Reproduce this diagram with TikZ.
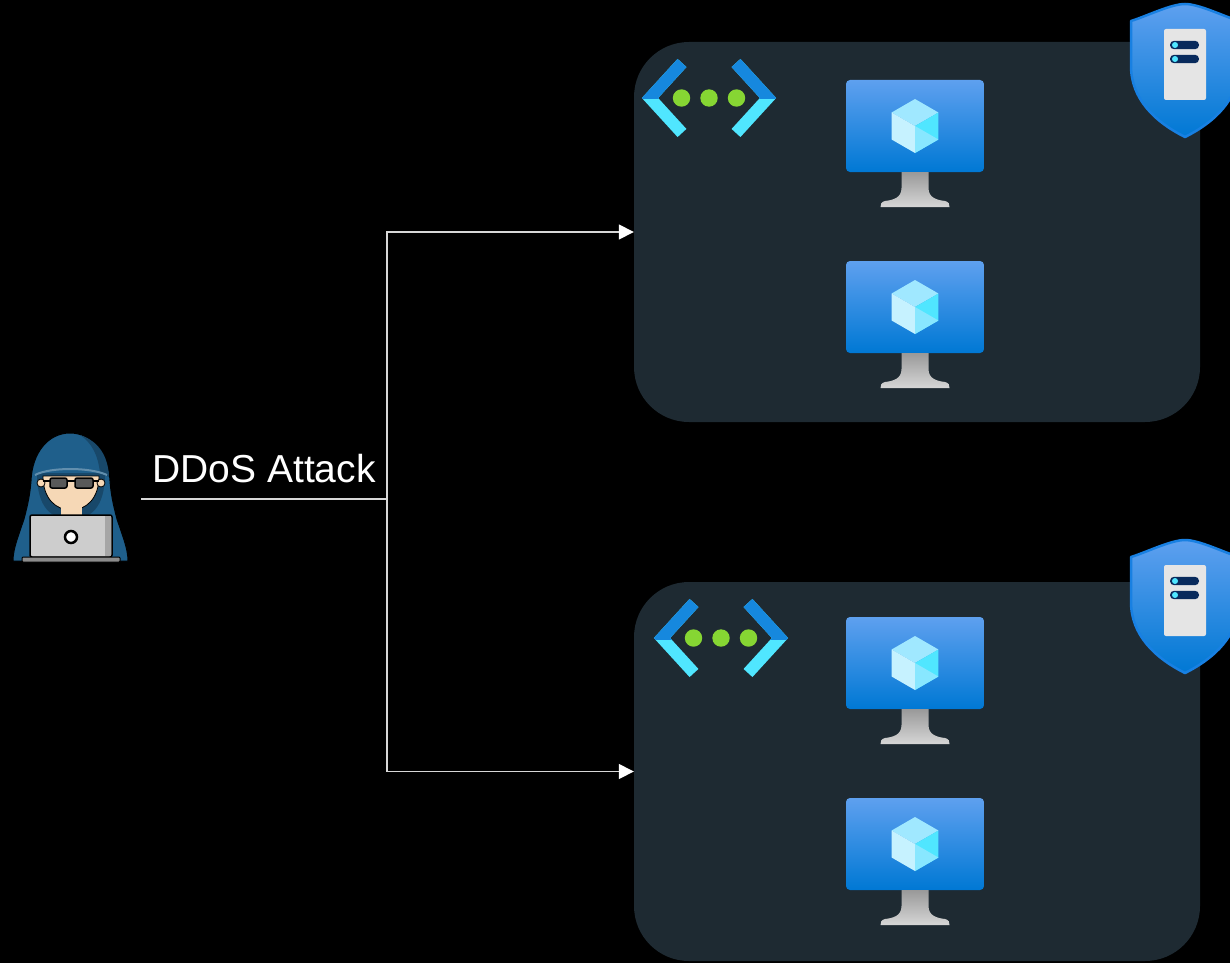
\documentclass[tikz,border=0pt]{standalone}
\usepackage{fontspec}
\setmainfont{Liberation Sans}
\usepackage{tikz}
\usetikzlibrary{arrows.meta,positioning,calc}
\definecolor{netpanel}{RGB}{30,42,50}
\definecolor{wirecol}{RGB}{215,215,215}
\definecolor{azlight}{RGB}{94,160,239}
\definecolor{azdark}{RGB}{0,120,212}
\definecolor{azedge}{RGB}{24,128,226}
\definecolor{cubetop}{RGB}{160,232,255}
\definecolor{cubeleft}{RGB}{198,242,255}
\definecolor{cuberight}{RGB}{80,230,255}
\definecolor{dotgreen}{RGB}{134,214,51}
\definecolor{chevdark}{RGB}{22,136,222}
\definecolor{chevlight}{RGB}{80,230,255}
\definecolor{srvnavy}{RGB}{8,42,92}
\definecolor{hoodblue}{RGB}{31,95,139}
\definecolor{hoodshade}{RGB}{24,72,106}
\definecolor{skin}{RGB}{246,216,182}
\definecolor{lidgray}{RGB}{205,205,205}

\begin{document}
\begin{tikzpicture}[x=1pt, y=-1pt,
  panel/.style={fill=netpanel, rounded corners=55pt, minimum width=566pt,
    inner sep=0pt},
  wire/.style={draw=wirecol, line width=1.5pt},
  arr/.style={wire, -{Triangle[length=15pt, width=15pt, color=white]}},
  tag/.style={font=\fontsize{39}{46}\selectfont, text=white, anchor=base,
    yshift=17pt},
  figure/.style={inner sep=0pt, minimum width=142pt, minimum height=130pt},
  chevron/.style={line width=12pt, line cap=butt, line join=miter},
  % virtual network: two chevrons and three dots
  pics/vnet/.style={code={
    \draw[chevron, chevlight] (-27,-35) -- (-59,0) -- (-27,35);
    \draw[chevron, chevlight] (27,-35) -- (59,0) -- (27,35);
    \begin{scope}
      \clip (-80,-50) rectangle (80,1);
      \draw[chevron, chevdark] (-27,-35) -- (-59,0) -- (-27,35);
      \draw[chevron, chevdark] (27,-35) -- (59,0) -- (27,35);
    \end{scope}
    \foreach \dx in {-27.5,0,27.5}
      \fill[dotgreen] (\dx,0) circle (8.7);
  }},
  % virtual machine: screen, stand and cube
  pics/vmicon/.style={code={
    \shade[top color=azlight, bottom color=azdark, rounded corners=4pt]
      (-69,-46) rectangle (69,46);
    \shade[top color=black!40, bottom color=black!16]
      (-13.5,46) -- (-13.5,62) .. controls (-13.5,72) and (-22,74) .. (-30,75)
      .. controls (-34,76) and (-34.5,78) .. (-34.5,81) -- (34.5,81)
      .. controls (34.5,78) and (34,76) .. (30,75)
      .. controls (22,74) and (13.5,72) .. (13.5,62) -- (13.5,46) -- cycle;
    \fill[cubetop] (0,0) -- (-23.4,-13.5) -- (0,-27) -- (23.4,-13.5) -- cycle;
    \fill[cubeleft] (0,0) -- (-23.4,-13.5) -- (-23.4,13.5) -- (0,27) -- cycle;
    \fill[cuberight] (0,0) -- (23.4,-13.5) -- (23.4,13.5) -- (0,27) -- cycle;
    \fill[cubetop!70!cuberight] (0,0) -- (23.4,13.5) -- (0,27) -- cycle;
  }},
  % shield with a server rack
  pics/guard/.style={code={
    \shade[top color=azlight, bottom color=azdark, draw=azedge,
      line width=2.5pt, line join=round]
      (0,0) .. controls (-14,0) and (-38,12) .. (-54,17) -- (-54,62)
      .. controls (-54,95) and (-30,118) .. (0,133)
      .. controls (30,118) and (54,95) .. (54,62) -- (54,17)
      .. controls (38,12) and (14,0) .. (0,0) -- cycle;
    \fill[black!10, rounded corners=2pt] (-21,25) rectangle (21,96);
    \foreach \dy in {41,55} {
      \fill[srvnavy, rounded corners=4pt] (-15,\dy-4.2) rectangle (14,\dy+4.2);
      \fill[chevlight] (-10,\dy) circle (3);
    }
  }},
  % hooded figure behind a laptop
  pics/intruder/.style={code={
    \filldraw[fill=hoodblue, draw=black, line width=1pt]
      (0,-66) .. controls (-22,-66) and (-38,-46) .. (-39,-18)
      .. controls (-40,-5) and (-42,5) .. (-46,20)
      .. controls (-52,38) and (-57,50) .. (-57,62) -- (58,62)
      .. controls (58,50) and (53,38) .. (47,20)
      .. controls (43,5) and (41,-5) .. (40,-18)
      .. controls (39,-46) and (22,-66) .. (0,-66) -- cycle;
    \fill[hoodshade] (10,-64) .. controls (28,-58) and (38,-44) .. (39,-22)
      -- (30,-26) .. controls (28,-44) and (22,-56) .. (10,-64) -- cycle;
    \fill[hoodshade] (-33,-26) .. controls (-33,10) and (-18,20) .. (1,20)
      .. controls (20,20) and (35,10) .. (35,-26) -- cycle;
    \draw[hoodblue!70!white, line width=2pt]
      (-35,-24) .. controls (-20,-32) and (20,-32) .. (37,-24);
    \filldraw[fill=skin, draw=black, line width=0.8pt]
      (-27,-23) -- (29,-23) .. controls (29,0) and (16,11) .. (1,11)
      .. controls (-14,11) and (-27,0) .. (-27,-23) -- cycle;
    \fill[skin] (-9,6) rectangle (12,18);
    \filldraw[fill=skin, draw=black, line width=0.8pt] (-29,-16) circle (4);
    \filldraw[fill=skin, draw=black, line width=0.8pt] (31,-16) circle (4);
    \draw[black, line width=1.5pt] (-27,-18) -- (29,-18);
    \filldraw[fill=black!65, draw=black, line width=1.5pt, rounded corners=2pt]
      (-20,-21) rectangle (-3,-11);
    \filldraw[fill=black!65, draw=black, line width=1.5pt, rounded corners=2pt]
      (5,-21) rectangle (23,-11);
    \filldraw[fill=lidgray, draw=black, line width=1.5pt, rounded corners=2pt]
      (-40,16) rectangle (42,58);
    \fill[black!35] (35,17) rectangle (41,57);
    \filldraw[fill=white, draw=black, line width=2.5pt] (1,38) circle (6);
    \filldraw[fill=black!45, draw=black, line width=1pt, rounded corners=1pt]
      (-48,58) rectangle (50,63);
  }}]
\fill[black] (0,0) rectangle (1230,963);
\useasboundingbox (0,0) rectangle (1230,963);

% the two protected networks
\node[panel, minimum height=380pt] (net1) at (917,232) {};
\node[panel, minimum height=379pt] (net2) at (917,771.5) {};

\pic at (709,98) {vnet};
\pic at (915,126) {vmicon};
\pic at (915,307) {vmicon};
\pic at (1185,4) {guard};

\pic at (721,638) {vnet};
\pic at (915,663) {vmicon};
\pic at (915,844) {vmicon};
\pic at (1185,540) {guard};

% attacker
\node[figure] (hacker) at (70,499) {};
\pic at (hacker.center) {intruder};

\coordinate (split) at (387,499);
\draw[wire] (hacker.east) -- node[tag] {DDoS Attack} (split);
\draw[arr] (split) |- (net1.west);
\draw[arr] (split) |- (net2.west);
\end{tikzpicture}
\end{document}
